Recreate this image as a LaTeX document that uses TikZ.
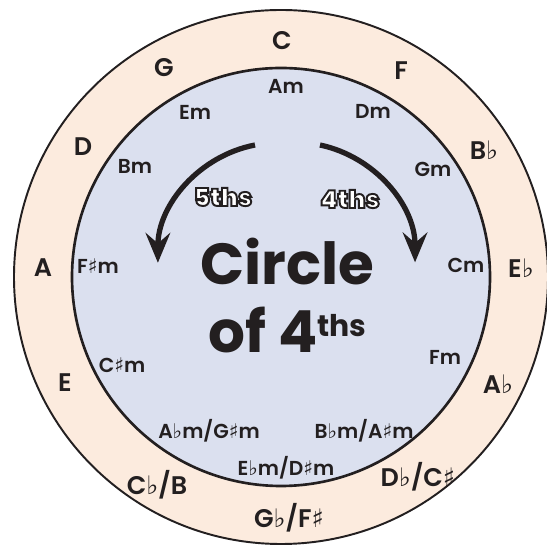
\documentclass[tikz,border=0pt]{standalone}
\usepackage{fontspec}
\setmainfont{Poppins}[UprightFont=* Medium, BoldFont=* Bold]
\newfontfamily\semifont{Poppins SemiBold}
\newfontfamily\heavyfont{Poppins Black}
\newfontfamily\accfont{DejaVu Sans}
\usetikzlibrary{arrows.meta}

\definecolor{inkcol}{RGB}{35,31,32}
\definecolor{ringfill}{RGB}{252,235,222}
\definecolor{keyfill}{RGB}{219,224,239}
\newcommand{\flatsym}{{\accfont ♭}}
\newcommand{\sharpsym}{{\accfont ♯}}
% white letters with a dark outline (text render mode 2)
\newcommand{\outlined}[1]{\textcolor{white}{\special{pdf:literal direct 2 Tr 1.1 w 0.137 0.122 0.125 RG}#1\special{pdf:literal direct 0 Tr}}}

\begin{document}
\begin{tikzpicture}[x=0.02cm, y=0.02cm,
        major/.style={anchor=base, text=inkcol, font=\semifont\fontsize{14.5}{16}\selectfont},
        minor/.style={anchor=base, text=inkcol, font=\semifont\fontsize{11.5}{13}\selectfont},
        title/.style={anchor=base, text=inkcol, font=\bfseries\fontsize{33}{36}\selectfont},
        dirlabel/.style={anchor=base, font=\heavyfont\fontsize{14}{15}\selectfont},
        turn/.style={-{Stealth[length=17pt, width=14pt, inset=6pt]}, line width=3pt, draw=inkcol}
    ]
        \clip (-281,-269) rectangle (266,277);
        \fill[white] (-281,-269) rectangle (266,277);

        % Rings
        \draw[draw=inkcol, fill=ringfill, line width=1.1pt] (0,0) circle[radius=267];
        \draw[draw=inkcol, fill=keyfill, line width=1.5pt] (0,0) circle[radius=209];

        % Major keys (outer ring)
        \node[major] (C) at (1,227) {C};
        \node[major] (F) at (120,197) {F};
        \node[major] (Bb) at (203,117) {B\flatsym};
        \node[major] (Eb) at (240,-1) {E\flatsym};
        \node[major] (Ab) at (217,-117) {A\flatsym};
        \node[major] (Db) at (137,-210) {D\flatsym/C\sharpsym};
        \node[major] (Gb) at (8,-251) {G\flatsym/F\sharpsym};
        \node[major] (Cb) at (-124,-218) {C\flatsym/B};
        \node[major] (E) at (-216,-115) {E};
        \node[major] (A) at (-238,0) {A};
        \node[major] (D) at (-198,121) {D};
        \node[major] (G) at (-117,200) {G};

        % Minor keys (inner disc)
        \node[minor] (Am) at (5,183) {Am};
        \node[minor] (Dm) at (92,158) {Dm};
        \node[minor] (Gm) at (152,100) {Gm};
        \node[minor] (Cm) at (185,4) {Cm};
        \node[minor] (Fm) at (164,-88) {Fm};
        \node[minor] (Bbm) at (83,-162) {B\flatsym m/A\sharpsym m};
        \node[minor] (Ebm) at (5,-199) {E\flatsym m/D\sharpsym m};
        \node[minor] (Abm) at (-72,-162) {A\flatsym m/G\sharpsym m};
        \node[minor] (Csm) at (-159,-96) {C\sharpsym m};
        \node[minor] (Fsm) at (-183,3) {F\sharpsym m};
        \node[minor] (Bm) at (-146,103) {Bm};
        \node[minor] (Em) at (-86,157) {Em};

        % Title
        \node[title] (title) at (6,-8) {Circle};
        \node[title] (subtitle) at (6.5,-76) {of 4\raisebox{9.6pt}{\fontsize{17}{17}\selectfont ths}};

        % Direction arrows
        \coordinate (fifths-start) at (-26,132);
        \coordinate (fourths-start) at (39,132);
        \draw[turn] (fifths-start) arc[start angle=101, end angle=180, radius=120];
        \draw[turn] (fourths-start) arc[start angle=78, end angle=0, radius=120];
        \node[dirlabel] (fifths) at (-58,71) {\outlined{5ths}};
        \node[dirlabel] (fourths) at (69,69) {\outlined{4ths}};
    \end{tikzpicture}
\end{document}
